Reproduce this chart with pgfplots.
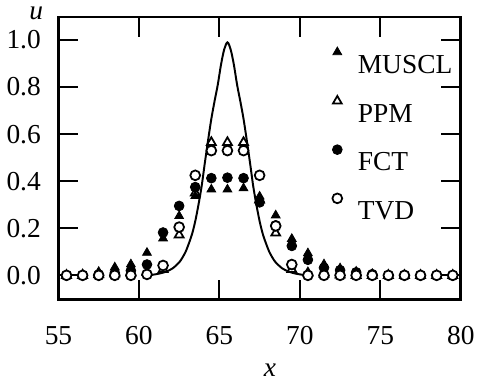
\documentclass[border=0pt]{standalone}
\usepackage{fontspec}
\setmainfont{Liberation Serif}
\usepackage{pgfplots}
\usepackage{pgfplotstable}
\pgfplotsset{compat=1.18}

% numerical solutions sampled at cell centres
\pgfplotstableread{
x     muscl  ppm    fct    tvd
55.5  0.000  0.000  0.000  0.000
56.5  0.005  0.000  0.000  0.000
57.5  0.015  0.003  0.004  0.000
58.5  0.034  0.006  0.010  0.000
59.5  0.047  0.010  0.020  0.000
60.5  0.096  0.012  0.046  0.004
61.5  0.157  0.025  0.182  0.042
62.5  0.252  0.172  0.295  0.205
63.5  0.337  0.350  0.375  0.425
64.5  0.365  0.565  0.413  0.530
65.5  0.365  0.565  0.415  0.530
66.5  0.370  0.565  0.413  0.530
67.5  0.335  0.320  0.310  0.425
68.5  0.255  0.180  0.212  0.210
69.5  0.155  0.025  0.125  0.046
70.5  0.094  0.010  0.066  0.000
71.5  0.047  0.005  0.032  0.000
72.5  0.030  0.002  0.022  0.000
73.5  0.016  0.000  0.013  0.000
74.5  0.006  0.000  0.005  0.000
75.5  0.000  0.000  0.000  0.000
76.5  0.000  0.000  0.000  0.000
77.5  0.000  0.000  0.000  0.000
78.5  0.000  0.000  0.000  0.000
79.5  0.000  0.000  0.000  0.000
}\schemes

% exact profile
\pgfplotstableread{
x     u
60.5  0.000
60.9  0.003
61.3  0.008
61.7  0.016
62.1  0.030
62.5  0.055
62.7  0.075
62.9  0.100
63.1  0.135
63.3  0.175
63.5  0.230
63.7  0.300
63.9  0.380
64.1  0.480
64.3  0.575
64.5  0.665
64.7  0.740
64.9  0.810
65.1  0.895
65.3  0.960
65.5  0.990
65.7  0.960
65.9  0.895
66.1  0.810
66.3  0.740
66.5  0.665
66.7  0.575
66.9  0.480
67.1  0.380
67.3  0.300
67.5  0.230
67.7  0.175
67.9  0.135
68.1  0.100
68.3  0.075
68.5  0.055
68.9  0.030
69.3  0.016
69.7  0.008
70.1  0.003
70.5  0.000
}\exact

\begin{document}
\begin{tikzpicture}[font=\fontsize{14}{16.8}\selectfont]
\begin{axis}[
  scale only axis, width=205.5pt, height=144.5pt,
  xmin=55, xmax=80, ymin=-0.104, ymax=1.098,
  xtick={55,60,65,70,75,80},
  ytick={0,0.2,0.4,0.6,0.8,1.0},
  /pgf/number format/assume math mode=true,
  y tick label style={/pgf/number format/fixed,
    /pgf/number format/fixed zerofill, /pgf/number format/precision=1,
    xshift=-5.5pt},
  x tick label style={yshift=-10pt},
  tick align=inside, major tick length=10pt,
  axis line style={line width=1.4pt},
  every tick/.style={line width=1.1pt, black},
  xlabel={\textit{x}}, ylabel={\textit{u}},
  every axis x label/.style={at={(axis description cs:0.526,-0.25)}, anchor=center},
  every axis y label/.style={at={(axis description cs:-0.055,1.014)}, anchor=center},
  legend style={draw=none, fill=none, inner sep=0pt,
    at={(axis description cs:0.68,0.895)}, anchor=north west,
    row sep=8pt, column sep=6pt},
  legend cell align=left,
  legend image code/.code={\draw[#1] plot coordinates {(0pt,7pt)};},
]
\addplot[black, line width=1pt, smooth, forget plot] table[x=x, y=u] {\exact};
\addplot[only marks, mark=triangle, mark size=2.6pt,
  mark options={draw=black, fill=white, line width=0.9pt}, forget plot]
  table[x=x, y=ppm] {\schemes};
\addplot[only marks, mark=triangle*, mark size=2.6pt,
  mark options={draw=black, fill=black}]
  table[x=x, y=muscl] {\schemes};
\addlegendentry{MUSCL}
\addlegendimage{only marks, mark=triangle, mark size=2.6pt,
  mark options={draw=black, fill=white, line width=0.9pt}}
\addlegendentry{PPM}
\addplot[only marks, mark=*, mark size=2.5pt,
  mark options={draw=black, fill=black}]
  table[x=x, y=fct] {\schemes};
\addlegendentry{FCT}
\addplot[only marks, mark=*, mark size=2.5pt,
  mark options={draw=black, fill=white, line width=0.9pt}]
  table[x=x, y=tvd] {\schemes};
\addlegendentry{TVD}
\coordinate (sw) at (rel axis cs:0,0);
\coordinate (ne) at (rel axis cs:1,1);
\end{axis}
\path (sw) ++(-29pt,-37pt) coordinate (bbA);
\path (ne) ++(6pt,8.5pt) coordinate (bbB);
\path[use as bounding box] (bbA) rectangle (bbB);
\end{tikzpicture}
\end{document}
